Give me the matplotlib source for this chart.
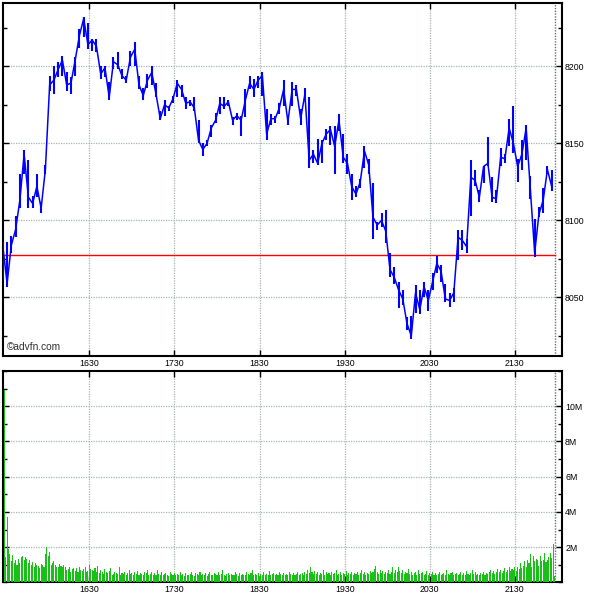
import matplotlib
matplotlib.use('Agg')
import matplotlib.pyplot as plt
import numpy as np
from matplotlib.ticker import FixedLocator, MultipleLocator

plt.rcParams['font.family'] = ['Liberation Sans', 'DejaVu Sans']

# ---------------- data ----------------
price_start = 929           # minutes after midnight (15:29)
price_step = 3              # minutes between price samples
prices = [
    8083, 8059, 8084, 8094, 8113, 8143, 8115, 8111, 8122, 8108,
    8133, 8188, 8191, 8198, 8204, 8188, 8189, 8204, 8220, 8231,
    8214, 8217, 8213, 8195, 8199, 8180, 8203, 8201, 8194, 8191,
    8206, 8211, 8188, 8181, 8191, 8196, 8182, 8166, 8175, 8173,
    8179, 8189, 8185, 8176, 8177, 8173, 8152, 8146, 8150, 8160,
    8165, 8176, 8174, 8177, 8165, 8168, 8165, 8178, 8189, 8185,
    8191, 8194, 8156, 8166, 8166, 8173, 8185, 8164, 8185, 8185,
    8166, 8182, 8139, 8143, 8137, 8150, 8156, 8159, 8148, 8165,
    8141, 8137, 8122, 8117, 8125, 8145, 8136, 8102, 8097, 8100,
    8093, 8068, 8063, 8055, 8049, 8033, 8025, 8053, 8042, 8057,
    8048, 8060, 8072, 8067, 8049, 8048, 8053, 8089, 8087, 8083,
    8128, 8126, 8115, 8135, 8137, 8115, 8114, 8141, 8140, 8160,
    8150, 8135, 8143, 8160, 8120, 8079, 8104, 8113, 8133, 8122,
]
price_lows = [
    8062, 8057, 8079, 8089, 8108, 8130, 8108, 8108, 8115, 8105,
    8130, 8184, 8182, 8193, 8194, 8184, 8182, 8194, 8212, 8219,
    8211, 8210, 8209, 8192, 8193, 8178, 8198, 8198, 8192, 8189,
    8200, 8200, 8185, 8178, 8186, 8188, 8180, 8165, 8168, 8171,
    8176, 8180, 8180, 8172, 8174, 8171, 8150, 8142, 8148, 8154,
    8163, 8169, 8172, 8174, 8162, 8165, 8155, 8167, 8185, 8180,
    8186, 8181, 8152, 8162, 8163, 8169, 8174, 8162, 8174, 8181,
    8162, 8178, 8134, 8137, 8136, 8137, 8152, 8149, 8130, 8158,
    8137, 8130, 8113, 8115, 8121, 8134, 8130, 8088, 8094, 8096,
    8085, 8063, 8059, 8043, 8045, 8029, 8023, 8040, 8039, 8050,
    8041, 8055, 8066, 8060, 8047, 8044, 8047, 8074, 8081, 8079,
    8103, 8122, 8112, 8124, 8135, 8112, 8111, 8135, 8137, 8148,
    8144, 8125, 8133, 8139, 8114, 8076, 8102, 8105, 8130, 8119,
]
price_highs = [
    8086, 8086, 8090, 8103, 8130, 8146, 8139, 8116, 8130, 8112,
    8136, 8194, 8200, 8203, 8207, 8196, 8193, 8206, 8224, 8232,
    8228, 8218, 8218, 8200, 8200, 8190, 8206, 8209, 8198, 8194,
    8210, 8216, 8194, 8186, 8195, 8200, 8189, 8171, 8178, 8174,
    8181, 8191, 8188, 8180, 8178, 8180, 8165, 8150, 8152, 8162,
    8170, 8180, 8180, 8178, 8167, 8170, 8168, 8185, 8194, 8192,
    8194, 8196, 8172, 8169, 8168, 8176, 8191, 8166, 8190, 8188,
    8172, 8186, 8180, 8146, 8153, 8152, 8159, 8161, 8161, 8169,
    8156, 8143, 8130, 8122, 8127, 8148, 8140, 8124, 8099, 8105,
    8107, 8079, 8070, 8060, 8055, 8037, 8038, 8058, 8055, 8060,
    8055, 8066, 8077, 8071, 8059, 8053, 8056, 8094, 8094, 8088,
    8139, 8133, 8120, 8135, 8154, 8128, 8120, 8147, 8143, 8166,
    8174, 8140, 8152, 8162, 8129, 8101, 8109, 8121, 8135, 8133,
]
volume_start = 930          # first volume bar (minute of day)
volume_m = [  # per-minute volume, millions
    10.9, 1.45, 3.7, 1.9, 1.6, 1.2, 1.55, 1.1, 1.25, 1.0,
    1.35, 1.1, 1.45, 1.5, 1.3, 1.45, 1.35, 1.1, 1.3, 1.0,
    1.15, 0.9, 1.1, 1.0, 0.95, 0.8, 1.05, 1.0, 0.85, 1.6,
    2.0, 1.5, 1.75, 1.0, 1.1, 1.2, 1.0, 0.85, 0.9, 1.05,
    0.95, 0.85, 1.0, 0.9, 0.7, 0.75, 0.85, 0.6, 0.75, 0.8,
    0.65, 0.8, 0.6, 0.85, 0.7, 0.65, 0.75, 0.9, 0.6, 0.65,
    1.0, 0.75, 0.7, 0.65, 0.8, 0.6, 0.95, 0.55, 0.7, 0.6,
    0.5, 0.75, 0.6, 0.55, 0.65, 0.8, 0.45, 0.5, 0.6, 0.55,
    0.5, 0.85, 0.45, 0.55, 0.5, 0.6, 0.45, 0.55, 0.7, 0.5,
    0.55, 0.45, 0.6, 0.5, 0.65, 0.4, 0.55, 0.5, 0.45, 0.6,
    0.55, 0.7, 0.45, 0.5, 0.6, 0.4, 0.55, 0.45, 0.7, 0.5,
    0.45, 0.6, 0.4, 0.5, 0.55, 0.45, 0.35, 0.6, 0.5, 0.4,
    0.55, 0.45, 0.5, 0.4, 0.6, 0.45, 0.5, 0.35, 0.55, 0.45,
    0.4, 0.5, 0.6, 0.45, 0.35, 0.55, 0.5, 0.45, 0.6, 0.4,
    0.5, 0.45, 0.55, 0.35, 0.5, 0.6, 0.4, 0.45, 0.55, 0.5,
    0.45, 0.6, 0.4, 0.5, 0.7, 0.45, 0.35, 0.5, 0.55, 0.4,
    0.5, 0.45, 0.4, 0.6, 0.5, 0.35, 0.55, 0.45, 0.5, 0.4,
    0.45, 0.6, 0.5, 0.4, 0.55, 0.7, 0.45, 0.5, 0.4, 0.55,
    0.35, 0.5, 0.45, 0.6, 0.4, 0.5, 0.45, 0.65, 0.4, 0.5,
    0.55, 0.45, 0.5, 0.4, 0.6, 0.5, 0.45, 0.55, 0.4, 0.5,
    0.45, 0.6, 0.5, 0.4, 0.55, 0.45, 0.5, 0.6, 0.4, 0.5,
    0.55, 0.45, 0.6, 0.5, 0.7, 0.55, 0.9, 0.6, 0.5, 0.65,
    0.5, 0.6, 0.45, 0.55, 0.5, 0.7, 0.45, 0.6, 0.5, 0.55,
    0.45, 0.6, 0.5, 0.55, 0.7, 0.45, 0.5, 0.6, 0.45, 0.55,
    0.5, 0.65, 0.45, 0.55, 0.5, 0.6, 0.4, 0.55, 0.5, 0.6,
    0.45, 0.55, 0.7, 0.5, 0.6, 0.45, 0.55, 0.5, 0.65, 0.55,
    0.6, 0.75, 0.95, 0.6, 0.5, 0.7, 0.55, 0.65, 0.5, 0.6,
    0.55, 0.7, 0.5, 0.6, 0.85, 0.55, 0.7, 0.6, 0.9, 0.65,
    0.55, 0.7, 0.5, 0.6, 0.55, 0.75, 0.5, 0.6, 0.45, 0.55,
    0.6, 0.45, 0.7, 0.5, 0.55, 0.6, 0.4, 0.5, 0.65, 0.45,
    0.55, 0.5, 0.6, 0.45, 0.55, 0.4, 0.5, 0.6, 0.45, 0.5,
    0.55, 0.45, 0.7, 0.5, 0.4, 0.55, 0.6, 0.45, 0.5,
    0.55, 0.45, 0.5, 0.6, 0.4, 0.55, 0.45, 0.65, 0.5, 0.45,
    0.55, 0.7, 0.5, 0.6, 0.45, 0.5, 0.4, 0.55, 0.5, 0.6,
    0.45, 0.55, 0.5, 0.6, 0.7, 0.55, 0.65, 0.5, 0.6, 0.75,
    0.6, 0.7, 0.55, 0.65, 0.8, 0.6, 0.7, 0.9, 0.65, 0.75,
    0.7, 0.85, 0.65, 0.9, 0.75, 1.1, 0.8, 0.95, 1.2, 0.9,
    1.3, 1.1, 1.6, 0.9, 1.5, 1.2, 1.35, 1.3, 0.95, 1.5,
    1.2, 1.25, 1.7, 1.15, 1.3, 1.45, 1.7, 1.4, 2.2, 0.35,
]
hour_ticks = [990, 1050, 1110, 1170, 1230, 1290]
hour_labels = ['1630', '1730', '1830', '1930', '2030', '2130']
price_ticks = [8050, 8100, 8150, 8200]
vol_ticks = [2, 4, 6, 8, 10]
vol_labels = ['2M', '4M', '6M', '8M', '10M']
prev_close = 8077.3
last_time = 1318

# ---------------- figure ----------------
fig = plt.figure(figsize=(6, 6), dpi=100)
ax1 = fig.add_axes([0.0045, 0.406, 0.9327, 0.5895])
ax2 = fig.add_axes([0.0045, 0.0292, 0.9327, 0.3525])

price_t = price_start + price_step * np.arange(len(prices))
vol_t = volume_start + np.arange(len(volume_m))

grid_kw = dict(color='#a9b5b5', linestyle=(0, (1, 1)), linewidth=0.9)

for ax in (ax1, ax2):
    ax.set_xlim(928.9, 1323.5)
    ax.set_axisbelow(True)
    ax.xaxis.set_major_locator(FixedLocator(hour_ticks))
    ax.set_xticklabels(hour_labels)
    ax.grid(True, which='major', **grid_kw)
    ax.axvline(last_time, color='#707070', linestyle=(0, (1, 1)), linewidth=1.0, zorder=1)
    for s in ax.spines.values():
        s.set_linewidth(1.5)
        s.set_color('black')
    ax.tick_params(which='both', direction='in', top=True, bottom=True,
                   left=True, right=True, labelleft=False, labelright=True,
                   labelsize=6.3, colors='black', width=1)
    ax.tick_params(which='major', length=4, pad=2)
    ax.tick_params(which='minor', length=3)

# price panel
ax1.set_ylim(8011.7, 8241.3)
ax1.yaxis.set_major_locator(FixedLocator(price_ticks))
ax1.yaxis.set_minor_locator(MultipleLocator(25))
ax1.axhline(prev_close, xmax=(last_time - 928.9) / (1323.5 - 928.9),
            color='#ff0000', linewidth=1.0, zorder=2)
ax1.vlines(price_t, price_lows, price_highs, color='#0000ff', linewidth=1.5, zorder=3)
ax1.plot(price_t, prices, color='#0000ff', linewidth=1.1, zorder=3)
ax1.text(0.007, 0.012, '\u00a9advfn.com', transform=ax1.transAxes,
         fontsize=7.3, color='#303030', ha='left', va='bottom')

# volume panel
ax2.set_ylim(0, 12.0)
ax2.yaxis.set_major_locator(FixedLocator(vol_ticks))
ax2.set_yticklabels(vol_labels)
ax2.yaxis.set_minor_locator(MultipleLocator(1))
ax2.bar(vol_t, volume_m, width=0.75, color='#18c018', edgecolor='none',
        align='center', zorder=3)

fig.savefig('out.png', dpi=100)
